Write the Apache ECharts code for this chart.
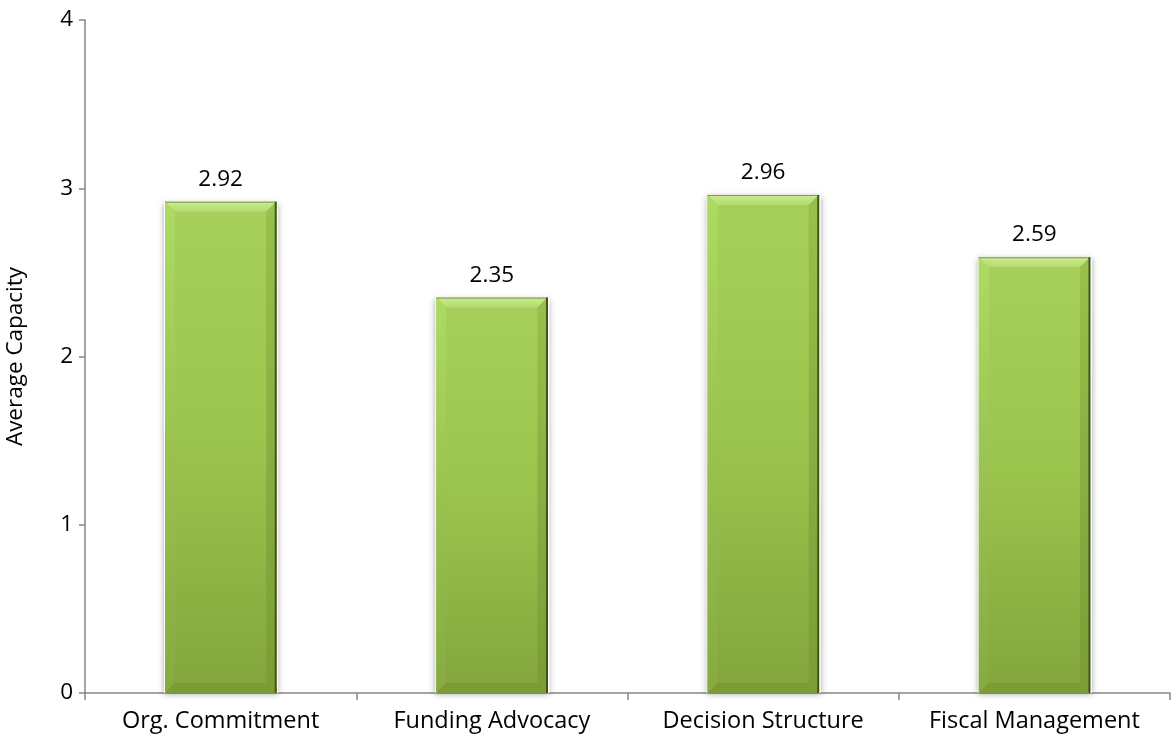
<!DOCTYPE html>
<html>
<head>
<meta charset="utf-8">
<script src="https://cdn.jsdelivr.net/npm/echarts@6/dist/echarts.min.js"></script>
<style>
  html, body { margin: 0; padding: 0; background: #fff; }
  #chart { width: 1171px; height: 740px; }
</style>
</head>
<body>
<div id="chart"></div>
<script>
// Capacity areas and their average scores
const categories = ['Org. Commitment', 'Funding Advocacy', 'Decision Structure', 'Fiscal Management'];
const values = [2.92, 2.35, 2.96, 2.59];
const yTicks = [0, 1, 2, 3, 4];

const FONT = '"Open Sans", Lato, sans-serif';
const FONT_SIZE = 23.5;
const chart = echarts.init(document.getElementById('chart'));

// Bevelled bar: soft shadow, gradient body, four edge facets and a value label
function renderBevelBar(params, api) {
  const idx = api.value(0);
  const v = api.value(1);
  const top = api.coord([idx, v]);
  const base = api.coord([idx, 0]);
  const size = api.size([1, 0]);
  const w = size[0] * 0.41;
  const x0 = top[0] - w / 2, x1 = top[0] + w / 2;
  const y0 = top[1], y1 = base[1];
  const b = 10;
  const body = new echarts.graphic.LinearGradient(0, 0, 0, 1, [
    { offset: 0, color: '#a6d05a' },
    { offset: 0.5, color: '#9bc44d' },
    { offset: 1, color: '#82a53c' }
  ]);
  return {
    type: 'group',
    children: [
      { type: 'rect', shape: { x: x0 - 1, y: y0 + 1, width: w + 3, height: y1 - y0 - 1 },
        style: { fill: '#fff', shadowBlur: 6, shadowColor: 'rgba(0,0,0,0.35)', shadowOffsetX: 0, shadowOffsetY: 1 } },
      { type: 'rect', shape: { x: x0, y: y0, width: w, height: y1 - y0 },
        style: { fill: body } },
      { type: 'polygon', shape: { points: [[x0, y0], [x1, y0], [x1 - b, y0 + b], [x0 + b, y0 + b]] },
        style: { fill: new echarts.graphic.LinearGradient(0, 0, 0, 1, [
          { offset: 0, color: '#cdeb93' }, { offset: 1, color: '#b3da6b' }]) } },
      { type: 'polygon', shape: { points: [[x0, y0], [x0 + b, y0 + b], [x0 + b, y1 - b], [x0, y1]] },
        style: { fill: new echarts.graphic.LinearGradient(0, 0, 0, 1, [
          { offset: 0, color: '#addb62' }, { offset: 1, color: '#86aa40' }]) } },
      { type: 'polygon', shape: { points: [[x1, y0], [x1, y1], [x1 - b, y1 - b], [x1 - b, y0 + b]] },
        style: { fill: new echarts.graphic.LinearGradient(0, 0, 0, 1, [
          { offset: 0, color: '#98c04c' }, { offset: 1, color: '#7b9c36' }]) } },
      { type: 'polygon', shape: { points: [[x0, y1], [x0 + b, y1 - b], [x1 - b, y1 - b], [x1, y1]] },
        style: { fill: '#7a9b36' } },
      { type: 'line', shape: { x1: x0, y1: y0 + 0.5, x2: x1, y2: y0 + 0.5 },
        style: { stroke: '#7f9f3c', lineWidth: 1 } },
      { type: 'line', shape: { x1: x1 - 0.5, y1: y0, x2: x1 - 0.5, y2: y1 },
        style: { stroke: '#3f5418', lineWidth: 2 } },
      { type: 'text', x: top[0], y: y0 - 11,
        style: { text: v.toFixed(2), align: 'center', verticalAlign: 'bottom',
                 fill: '#000', fontFamily: FONT, fontSize: FONT_SIZE - 1 } }
    ]
  };
}

chart.setOption({
  animation: false,
  backgroundColor: '#ffffff',
  grid: { left: 85, right: 1, top: 20, bottom: 47, containLabel: false, outerBoundsMode: 'none' },
  xAxis: {
    type: 'category',
    data: categories,
    boundaryGap: true,
    axisLine: { lineStyle: { color: '#868686', width: 1.5 } },
    axisTick: { show: true, interval: 0, length: 7, alignWithLabel: false, lineStyle: { color: '#868686', width: 1.5 } },
    axisLabel: { interval: 0, hideOverlap: false, color: '#000', fontFamily: FONT, fontSize: FONT_SIZE, margin: 16 }
  },
  yAxis: {
    type: 'value',
    min: yTicks[0],
    max: yTicks[yTicks.length - 1],
    interval: 1,
    name: 'Average Capacity',
    nameLocation: 'middle',
    nameGap: 58,
    nameTextStyle: { color: '#000', fontFamily: FONT, fontSize: FONT_SIZE - 1 },
    axisLine: { show: true, lineStyle: { color: '#868686', width: 1.5 } },
    axisTick: { show: true, length: 6, lineStyle: { color: '#868686', width: 1.5 } },
    axisLabel: { color: '#000', fontFamily: FONT, fontSize: FONT_SIZE - 1, margin: 12 },
    splitLine: { show: false }
  },
  series: [{
    type: 'custom',
    renderItem: renderBevelBar,
    data: values.map((v, i) => [i, v]),
    encode: { x: 0, y: 1 }
  }]
});
</script>
</body>
</html>
